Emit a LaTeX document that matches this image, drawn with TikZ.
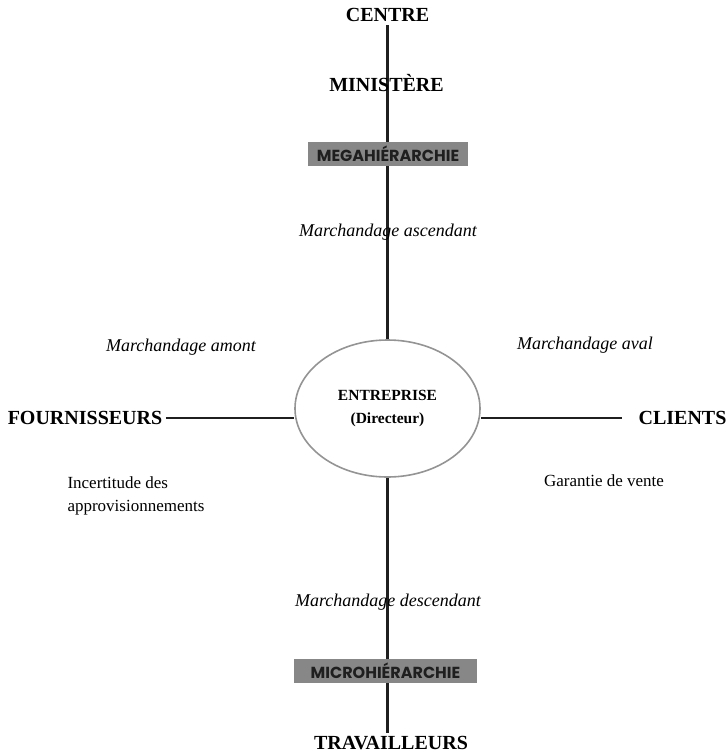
\documentclass[tikz,border=0pt]{standalone}
\usepackage{fontspec}
\setmainfont{Liberation Serif}
\newfontfamily\tierfont{Poppins}
\usetikzlibrary{shapes.geometric,backgrounds}

\begin{document}
\begin{tikzpicture}[x=1pt,y=-1pt,
	pole/.style={font=\bfseries\fontsize{20}{24}\selectfont},
	trade/.style={font=\itshape\fontsize{18}{22}\selectfont},
	remark/.style={font=\fontsize{17}{23}\selectfont},
	tier/.style={fill=black!47, text=black!88, inner sep=0pt, minimum height=24pt,
		font=\tierfont\bfseries\fontsize{16}{18}\selectfont},
	link/.style={line width=2.4pt, draw=black!88}]
	\useasboundingbox (0,0) rectangle (728,755);
	\node (CE) at (387.5,  15)	[pole]	{CENTRE};
	\node (MI) at (386.5,  83)	[pole]	{MINISTÈRE};
	\node (MG) at (388, 154)	[tier, minimum width=160pt]	{MEGAHIÉRARCHIE};
	\node (MA) at (388, 232)	[trade]	{Marchandage ascendant};
	\node (EN) at (387.5, 408.5)	[ellipse, draw=black!42, line width=1.6pt, minimum width=185pt, minimum height=137pt, align=center, font=\bfseries\fontsize{15.5}{23}\selectfont]	{ENTREPRISE\\(Directeur)};
	\node (FO) at ( 85, 418)	[pole]	{FOURNISSEURS};
	\node (CL) at (682.5, 418)	[pole]	{CLIENTS};
	\node (AM) at (181, 347)	[trade]	{Marchandage amont};
	\node (AV) at (585, 345)	[trade]	{Marchandage aval};
	\node (IN) at ( 64, 496)	[remark, anchor=west, align=left]	{Incertitude des\\approvisionnements};
	\node (GA) at (604, 481)	[remark]	{Garantie de vente};
	\node (MD) at (388, 602)	[trade]	{Marchandage descendant};
	\node (MC) at (385.5, 670.5)	[tier, minimum width=183pt]	{MICROHIÉRARCHIE};
	\node (TR) at (391, 743)	[pole]	{TRAVAILLEURS};
	\begin{pgfonlayer}{background}
		\draw[link] (CE.south) -- (EN.north);
		\draw[link] (EN.south) -- (EN.south |- TR.north);
	\end{pgfonlayer}
	\draw[link] (FO.east) -- (FO.east -| EN.west);
	\draw[link] (EN.east |- CL) -- ([xshift=-13pt]CL.west);
\end{tikzpicture}
\end{document}
